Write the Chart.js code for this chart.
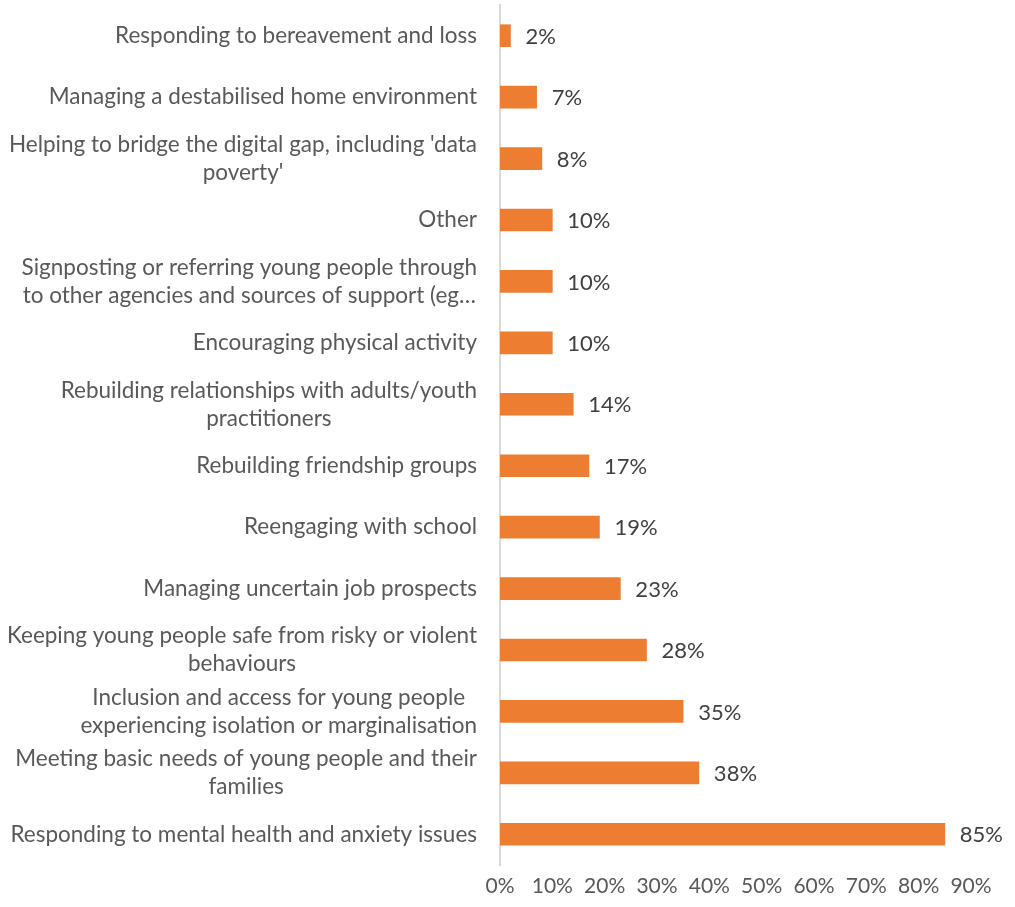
<!DOCTYPE html>
<html>
<head>
<meta charset="utf-8">
<title>Support priorities</title>
<script src="https://cdn.jsdelivr.net/npm/chart.js@4.4.1/dist/chart.umd.min.js"></script>
<style>
    html, body { margin: 0; padding: 0; background: #fff; }
</style>
</head>
<body>
<canvas id="barChart" width="1015" height="907"></canvas>
<script>
// Categories, top to bottom (multi-line labels are arrays of lines)
const categories = [
    'Responding to bereavement and loss',
    'Managing a destabilised home environment',
    ["Helping to bridge the digital gap, including 'data", "poverty'"],
    'Other',
    ['Signposting or referring young people through', 'to other agencies and sources of support (eg…'],
    'Encouraging physical activity',
    ['Rebuilding relationships with adults/youth', 'practitioners'],
    'Rebuilding friendship groups',
    'Reengaging with school',
    'Managing uncertain job prospects',
    ['Keeping young people safe from risky or violent', 'behaviours'],
    ['Inclusion and access for young people', 'experiencing isolation or marginalisation'],
    ['Meeting basic needs of young people and their', 'families'],
    'Responding to mental health and anxiety issues'
];
const percentages = [2, 7, 8, 10, 10, 10, 14, 17, 19, 23, 28, 35, 38, 85];
const xTickValues = [0, 10, 20, 30, 40, 50, 60, 70, 80, 90];

const FONT = 'Lato, "Open Sans", sans-serif';
const LABEL_SIZE = 22.5;
const LABEL_LINE = 28;
const TEXT_GREY = '#595959';

// Category labels: block right-aligned next to the axis, lines centred within the block
const categoryLabels = {
    id: 'categoryLabels',
    afterDraw(chart) {
        const { ctx, scales: { y } } = chart;
        const right = y.right - 23;
        ctx.save();
        ctx.font = `${LABEL_SIZE}px ${FONT}`;
        ctx.fillStyle = TEXT_GREY;
        ctx.textAlign = 'center';
        ctx.textBaseline = 'middle';
        categories.forEach((label, i) => {
            const lines = Array.isArray(label) ? label : [label];
            const maxW = Math.max(...lines.map(l => ctx.measureText(l).width));
            const cx = right - maxW / 2;
            const cy = y.getPixelForValue(i);
            const startY = cy - (lines.length - 1) * LABEL_LINE / 2;
            lines.forEach((line, j) => ctx.fillText(line, cx, startY + j * LABEL_LINE));
        });
        ctx.restore();
    }
};

// Percentage value at the end of each bar
const valueLabels = {
    id: 'valueLabels',
    afterDatasetsDraw(chart) {
        const { ctx } = chart;
        const meta = chart.getDatasetMeta(0);
        ctx.save();
        ctx.font = `22px ${FONT}`;
        ctx.fillStyle = '#404040';
        ctx.textAlign = 'left';
        ctx.textBaseline = 'middle';
        meta.data.forEach((bar, i) => {
            ctx.fillText(percentages[i] + '%', bar.x + 15, bar.y + 1);
        });
        ctx.restore();
    }
};

new Chart(document.getElementById('barChart'), {
    type: 'bar',
    data: {
        labels: categories.map(c => Array.isArray(c) ? c.join(' ') : c),
        datasets: [{
            data: percentages,
            backgroundColor: '#ED7D31',
            borderWidth: 0,
            barThickness: 22
        }]
    },
    options: {
        indexAxis: 'y',
        responsive: false,
        animation: false,
        layout: { padding: { top: 5, right: 44, bottom: 0, left: 0 } },
        plugins: {
            legend: { display: false },
            tooltip: { enabled: false }
        },
        scales: {
            x: {
                min: 0,
                max: 90,
                afterBuildTicks: scale => { scale.ticks = xTickValues.map(v => ({ value: v })); },
                afterFit: scale => { scale.height = 42; },
                grid: { display: false, drawTicks: false },
                border: { display: false },
                ticks: {
                    padding: 9,
                    color: TEXT_GREY,
                    font: { family: FONT, size: 21 },
                    callback: v => v + '%'
                }
            },
            y: {
                afterFit: scale => { scale.width = 500; },
                grid: { display: false, drawTicks: false },
                border: { display: true, color: '#d9d9d9', width: 2 },
                ticks: { display: false }
            }
        }
    },
    plugins: [categoryLabels, valueLabels]
});
</script>
</body>
</html>
